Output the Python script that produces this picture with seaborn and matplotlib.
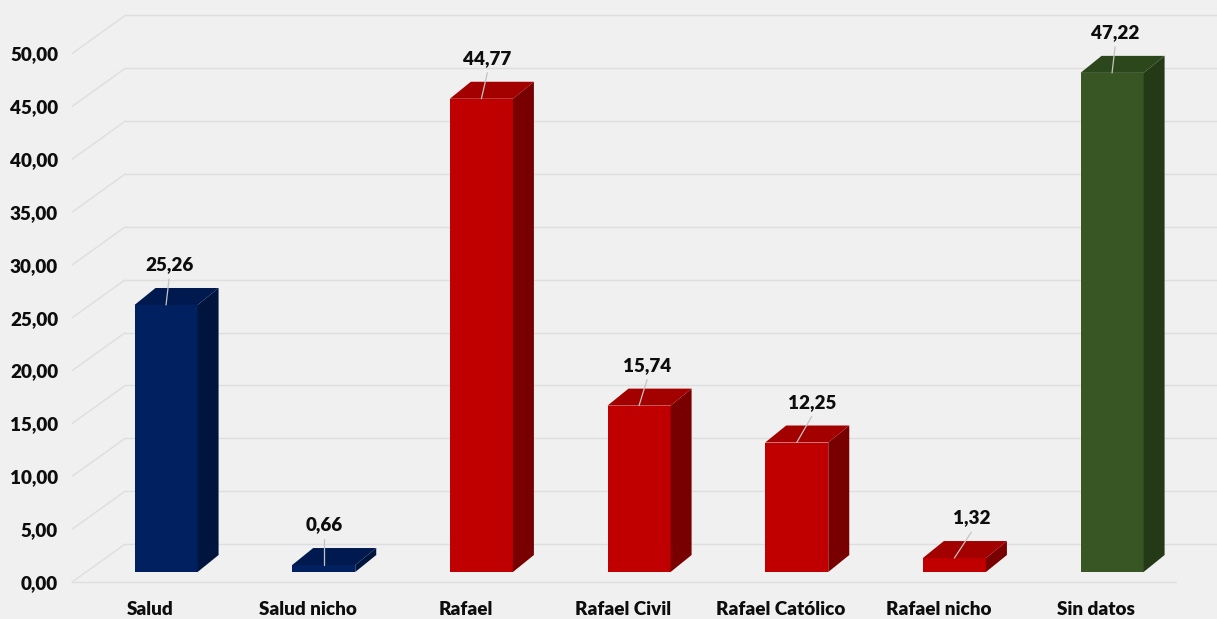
import matplotlib
matplotlib.use("Agg")
import matplotlib.pyplot as plt
from matplotlib.patches import Polygon
from matplotlib.transforms import ScaledTranslation
import seaborn as sns

# ---- data ----
categories = ["Salud", "Salud nicho", "Rafael", "Rafael Civil",
              "Rafael Católico", "Rafael nicho", "Sin datos"]
values = [25.26, 0.66, 44.77, 15.74, 12.25, 1.32, 47.22]
tick_values = [0, 5, 10, 15, 20, 25, 30, 35, 40, 45, 50]

# ---- styling ----
front_colors = ["#002060", "#002060", "#c00000", "#c00000", "#c00000", "#c00000", "#375623"]
top_colors = ["#001a4f", "#001a4f", "#a30000", "#a30000", "#a30000", "#a30000", "#2c471c"]
side_colors = ["#00153d", "#00153d", "#780000", "#780000", "#780000", "#780000", "#243a17"]
label_nudge_px = [3, 0, 6, 8, 15, 17, 3]   # horizontal shift of each value label

BG = "#f0f0f0"
GRID = "#dedede"
TEXT = "#0d0d0d"
FS = 13.6
WEIGHT = "heavy"
DEPTH_DX, DEPTH_DY = 21, 17        # bar depth (pixels)
BACK_DX, BACK_DY = 38, 28          # back wall offset from the bar plane (pixels)
FRONT_DX, FRONT_DY = -15, -10      # front edge offset from the bar plane (pixels)

sns.set_theme(style="white")
plt.rcParams["font.family"] = ["Lato", "DejaVu Sans"]
plt.rcParams["font.weight"] = WEIGHT

W_PX, H_PX, DPI = 1217, 619, 100
fig = plt.figure(figsize=(W_PX / DPI, H_PX / DPI), dpi=DPI, facecolor=BG)
ax_left, ax_bottom, ax_w, ax_h = 87.2, 47.0, 1103.7, 570.8
ax = fig.add_axes([ax_left / W_PX, ax_bottom / H_PX, ax_w / W_PX, ax_h / H_PX])
ax.set_facecolor("none")

xlim = (-0.5, len(categories) - 0.5)
ylim = (0, 54)
px_x = ax_w / (xlim[1] - xlim[0])
px_y = ax_h / (ylim[1] - ylim[0])

sns.barplot(x=categories, y=values, hue=categories, palette=front_colors,
            saturation=1, width=0.4, linewidth=0, legend=False, ax=ax, zorder=3)
ax.set_xlim(*xlim)
ax.set_ylim(*ylim)

# back wall grid, side-wall diagonals and floor edge
bx, by = BACK_DX / px_x, BACK_DY / px_y
fx, fy = FRONT_DX / px_x, FRONT_DY / px_y
for v in tick_values:
    ax.plot([xlim[0] + bx, xlim[1] + bx + 1], [v + by, v + by],
            color=GRID, lw=1.0, zorder=0, clip_on=False)
    ax.plot([xlim[0] + fx, xlim[0] + bx], [v + fy, v + by],
            color=GRID, lw=1.0, zorder=0, clip_on=False)
ax.plot([xlim[0] + fx, xlim[1] + fx], [fy, fy], color=GRID, lw=1.0,
        zorder=0, clip_on=False)

# 3D faces, leader lines and value labels
ddx, ddy = DEPTH_DX / px_x, DEPTH_DY / px_y
for i, bar in enumerate(ax.patches):
    x0 = bar.get_x()
    x1 = x0 + bar.get_width()
    h = bar.get_height()
    side = Polygon([(x1, 0), (x1, h), (x1 + ddx, h + ddy), (x1 + ddx, ddy)],
                   closed=True, facecolor=side_colors[i], edgecolor="none",
                   zorder=3, clip_on=False)
    top = Polygon([(x0, h), (x1, h), (x1 + ddx, h + ddy), (x0 + ddx, h + ddy)],
                  closed=True, facecolor=top_colors[i], edgecolor="none",
                  zorder=3, clip_on=False)
    ax.add_patch(side)
    ax.add_patch(top)
    xc = x0 + bar.get_width() / 2
    nud = label_nudge_px[i] / px_x
    ax.plot([xc, xc + nud], [h, h + 26 / px_y], color="#c4c4c4", lw=0.9,
            zorder=4, clip_on=False)
    ax.text(xc + nud, h + 40 / px_y, f"{values[i]:.2f}".replace(".", ","),
            ha="center", va="center", fontsize=FS, fontweight=WEIGHT,
            color=TEXT, zorder=5)

# axes decoration
for s in ax.spines.values():
    s.set_visible(False)
ax.set_xlabel("")
ax.set_ylabel("")
ax.set_yticks(tick_values)
ax.set_yticklabels([f"{v:.2f}".replace(".", ",") for v in tick_values])
ax.tick_params(axis="y", length=0, pad=21, labelsize=FS, labelcolor=TEXT)
ax.tick_params(axis="x", length=0, pad=21, labelsize=FS, labelcolor=TEXT)
for lbl in ax.get_yticklabels():
    lbl.set_fontweight(WEIGHT)
    lbl.set_transform(lbl.get_transform() + ScaledTranslation(0, FRONT_DY / DPI, fig.dpi_scale_trans))
for lbl in ax.get_xticklabels():
    lbl.set_fontweight(WEIGHT)
    lbl.set_transform(lbl.get_transform() + ScaledTranslation(-16 / DPI, 0, fig.dpi_scale_trans))

fig.savefig("out.png", dpi=DPI, facecolor=BG)
